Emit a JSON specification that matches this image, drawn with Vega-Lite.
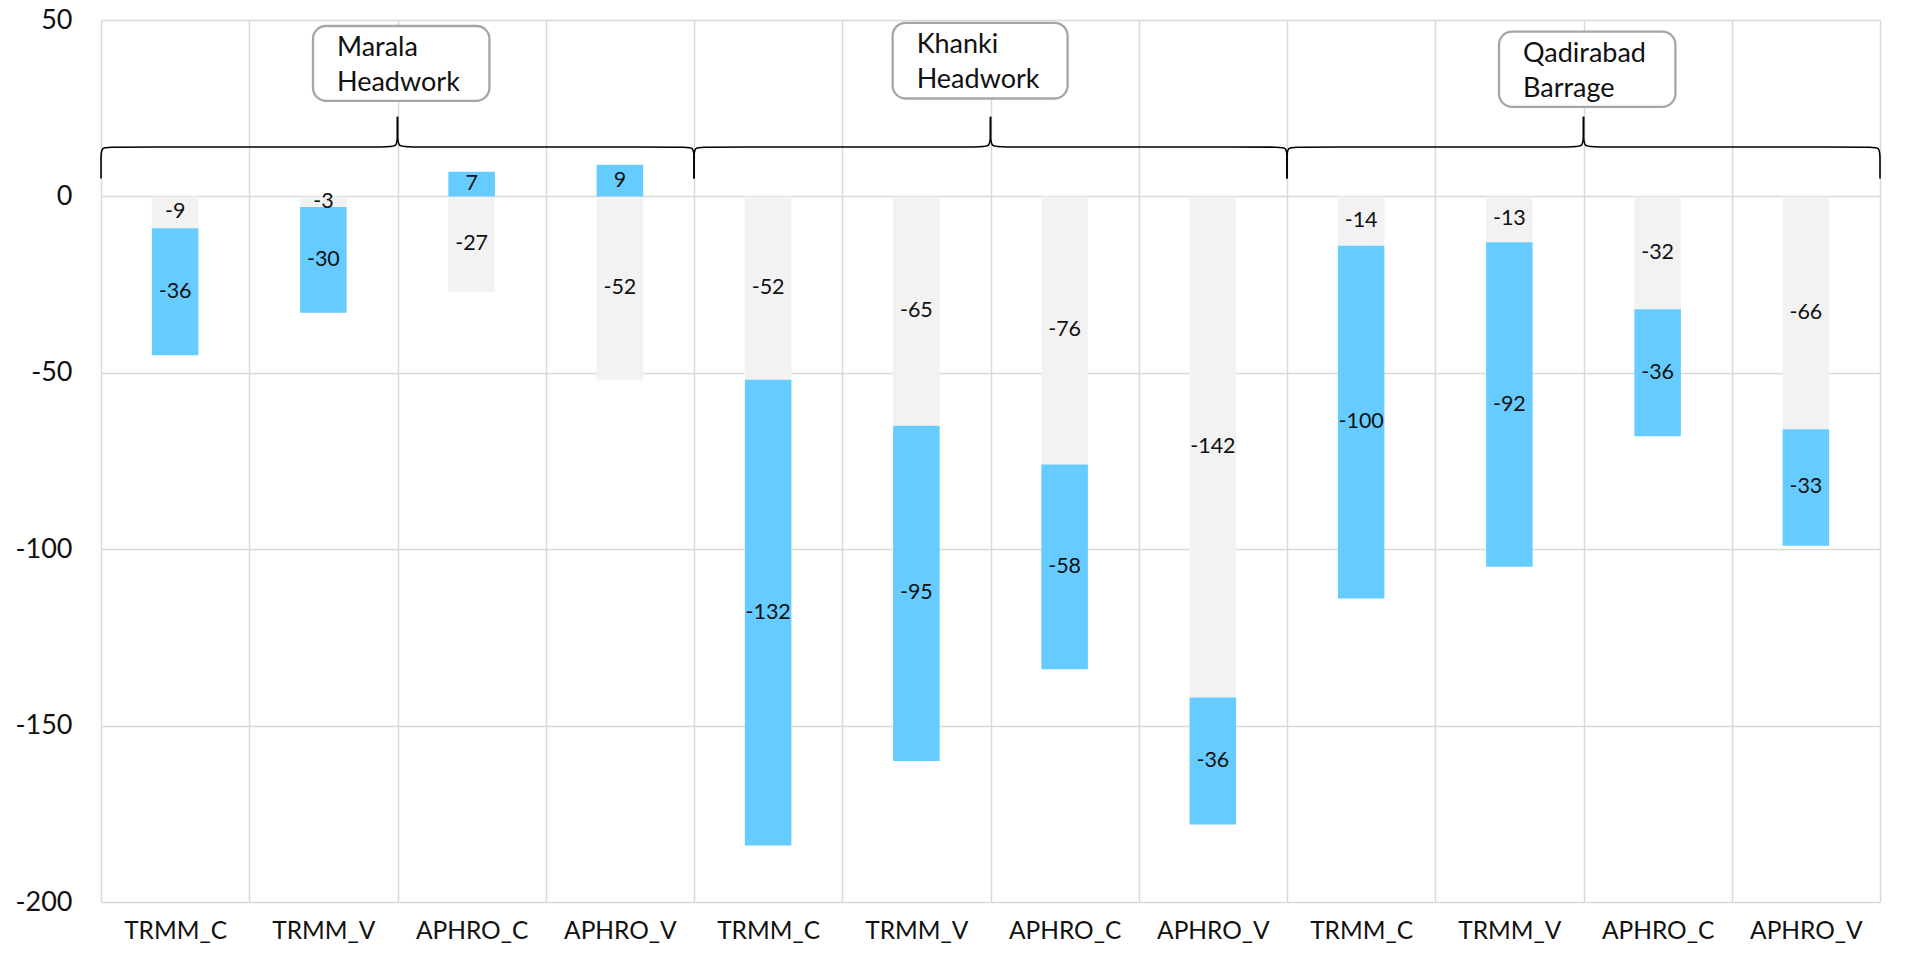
{
  "$schema": "https://vega.github.io/schema/vega-lite/v6.json",
  "width": 1779,
  "height": 882,
  "autosize": "none",
  "padding": {"left": 101, "top": 20, "right": 30, "bottom": 60},
  "background": "white",
  "config": {
    "view": {"stroke": null},
    "font": "Lato",
    "text": {"font": "Lato"}
  },
  "datasets": {
    "bars": [
      {"id": "Marala|TRMM_C", "segment": "first", "value": -9},
      {"id": "Marala|TRMM_C", "segment": "second", "value": -36},
      {"id": "Marala|TRMM_V", "segment": "first", "value": -3},
      {"id": "Marala|TRMM_V", "segment": "second", "value": -30},
      {"id": "Marala|APHRO_C", "segment": "first", "value": -27},
      {"id": "Marala|APHRO_C", "segment": "second", "value": 7},
      {"id": "Marala|APHRO_V", "segment": "first", "value": -52},
      {"id": "Marala|APHRO_V", "segment": "second", "value": 9},
      {"id": "Khanki|TRMM_C", "segment": "first", "value": -52},
      {"id": "Khanki|TRMM_C", "segment": "second", "value": -132},
      {"id": "Khanki|TRMM_V", "segment": "first", "value": -65},
      {"id": "Khanki|TRMM_V", "segment": "second", "value": -95},
      {"id": "Khanki|APHRO_C", "segment": "first", "value": -76},
      {"id": "Khanki|APHRO_C", "segment": "second", "value": -58},
      {"id": "Khanki|APHRO_V", "segment": "first", "value": -142},
      {"id": "Khanki|APHRO_V", "segment": "second", "value": -36},
      {"id": "Qadirabad|TRMM_C", "segment": "first", "value": -14},
      {"id": "Qadirabad|TRMM_C", "segment": "second", "value": -100},
      {"id": "Qadirabad|TRMM_V", "segment": "first", "value": -13},
      {"id": "Qadirabad|TRMM_V", "segment": "second", "value": -92},
      {"id": "Qadirabad|APHRO_C", "segment": "first", "value": -32},
      {"id": "Qadirabad|APHRO_C", "segment": "second", "value": -36},
      {"id": "Qadirabad|APHRO_V", "segment": "first", "value": -66},
      {"id": "Qadirabad|APHRO_V", "segment": "second", "value": -33}
    ],
    "callouts": [
      {"site": "Marala\nHeadwork", "x0": 1.43, "x1": 2.62, "y0": 27.1, "y1": 48.3},
      {"site": "Khanki\nHeadwork", "x0": 5.34, "x1": 6.52, "y0": 27.75, "y1": 49.2},
      {"site": "Qadirabad\nBarrage", "x0": 9.43, "x1": 10.62, "y0": 25.4, "y1": 46.7}
    ],
    "braces": [
      {"half": "M-left", "k": 0, "x": 0, "y": 5.1},
      {"half": "M-left", "k": 1, "x": 0, "y": 11},
      {"half": "M-left", "k": 2, "x": 0, "y": 14},
      {"half": "M-left", "k": 3, "x": 0.07, "y": 14},
      {"half": "M-left", "k": 4, "x": 1.93, "y": 14},
      {"half": "M-left", "k": 5, "x": 2, "y": 14},
      {"half": "M-left", "k": 6, "x": 2, "y": 18},
      {"half": "M-left", "k": 7, "x": 2, "y": 22.6},
      {"half": "M-right", "k": 0, "x": 4, "y": 5.1},
      {"half": "M-right", "k": 1, "x": 4, "y": 11},
      {"half": "M-right", "k": 2, "x": 4, "y": 14},
      {"half": "M-right", "k": 3, "x": 3.93, "y": 14},
      {"half": "M-right", "k": 4, "x": 2.07, "y": 14},
      {"half": "M-right", "k": 5, "x": 2, "y": 14},
      {"half": "M-right", "k": 6, "x": 2, "y": 18},
      {"half": "M-right", "k": 7, "x": 2, "y": 22.6},
      {"half": "K-left", "k": 0, "x": 4, "y": 5.1},
      {"half": "K-left", "k": 1, "x": 4, "y": 11},
      {"half": "K-left", "k": 2, "x": 4, "y": 14},
      {"half": "K-left", "k": 3, "x": 4.07, "y": 14},
      {"half": "K-left", "k": 4, "x": 5.93, "y": 14},
      {"half": "K-left", "k": 5, "x": 6, "y": 14},
      {"half": "K-left", "k": 6, "x": 6, "y": 18},
      {"half": "K-left", "k": 7, "x": 6, "y": 22.6},
      {"half": "K-right", "k": 0, "x": 8, "y": 5.1},
      {"half": "K-right", "k": 1, "x": 8, "y": 11},
      {"half": "K-right", "k": 2, "x": 8, "y": 14},
      {"half": "K-right", "k": 3, "x": 7.93, "y": 14},
      {"half": "K-right", "k": 4, "x": 6.07, "y": 14},
      {"half": "K-right", "k": 5, "x": 6, "y": 14},
      {"half": "K-right", "k": 6, "x": 6, "y": 18},
      {"half": "K-right", "k": 7, "x": 6, "y": 22.6},
      {"half": "Q-left", "k": 0, "x": 8, "y": 5.1},
      {"half": "Q-left", "k": 1, "x": 8, "y": 11},
      {"half": "Q-left", "k": 2, "x": 8, "y": 14},
      {"half": "Q-left", "k": 3, "x": 8.07, "y": 14},
      {"half": "Q-left", "k": 4, "x": 9.93, "y": 14},
      {"half": "Q-left", "k": 5, "x": 10, "y": 14},
      {"half": "Q-left", "k": 6, "x": 10, "y": 18},
      {"half": "Q-left", "k": 7, "x": 10, "y": 22.6},
      {"half": "Q-right", "k": 0, "x": 12, "y": 5.1},
      {"half": "Q-right", "k": 1, "x": 12, "y": 11},
      {"half": "Q-right", "k": 2, "x": 12, "y": 14},
      {"half": "Q-right", "k": 3, "x": 11.93, "y": 14},
      {"half": "Q-right", "k": 4, "x": 10.07, "y": 14},
      {"half": "Q-right", "k": 5, "x": 10, "y": 14},
      {"half": "Q-right", "k": 6, "x": 10, "y": 18},
      {"half": "Q-right", "k": 7, "x": 10, "y": 22.6}
    ]
  },
  "layer": [
    {
      "data": {"name": "bars"},
      "layer": [
        {
          "mark": {"type": "bar", "width": {"band": 0.314}},
          "encoding": {
            "x": {
              "field": "id",
              "type": "nominal",
              "sort": null,
              "title": null,
              "scale": {"paddingInner": 0, "paddingOuter": 0},
              "axis": {
                "title": null,
                "grid": true,
                "gridColor": "#D9D9D9",
                "gridWidth": 1.5,
                "tickBand": "extent",
                "ticks": false,
                "domain": false,
                "labelAngle": 0,
                "labelExpr": "split(datum.label, '|')[1]",
                "labelFont": "Lato",
                "labelFontSize": 24.5,
                "labelColor": "#111111",
                "labelPadding": 17
              }
            },
            "y": {
              "field": "value",
              "type": "quantitative",
              "stack": "zero",
              "title": null,
              "scale": {"domain": [-200, 50], "nice": false, "zero": false},
              "axis": {
                "title": null,
                "values": [-200, -150, -100, -50, 0, 50],
                "labelExpr": "'' + datum.value",
                "grid": true,
                "gridColor": "#D9D9D9",
                "gridWidth": 1.5,
                "ticks": false,
                "tickSize": 0,
                "domain": false,
                "labelFont": "Lato",
                "labelFontSize": 27,
                "labelColor": "#111111",
                "labelPadding": 29
              }
            },
            "color": {
              "field": "segment",
              "type": "nominal",
              "scale": {"domain": ["first", "second"], "range": ["#F2F2F2", "#66CCFF"]},
              "legend": null
            },
            "order": {"field": "segment", "sort": "ascending"}
          }
        },
        {
          "mark": {"type": "text", "font": "Lato", "fontSize": 21.5, "color": "#111111", "align": "center", "baseline": "middle"},
          "encoding": {
            "x": {"field": "id", "type": "nominal", "sort": null, "title": null},
            "y": {"field": "value", "type": "quantitative", "stack": "zero", "bandPosition": 0.5, "title": null},
            "detail": {"field": "segment"},
            "order": {"field": "segment", "sort": "ascending"},
            "text": {"field": "value", "type": "nominal"}
          }
        }
      ]
    },
    {
      "layer": [
        {
          "data": {"name": "callouts"},
          "mark": {"type": "rect", "fill": "white", "stroke": "#A6A6A6", "strokeWidth": 2.3, "cornerRadius": 13},
          "encoding": {
            "x": {"field": "x0", "type": "quantitative", "scale": {"domain": [0, 12], "nice": false, "zero": false}, "axis": null},
            "x2": {"field": "x1"},
            "y": {"field": "y0", "type": "quantitative", "title": null},
            "y2": {"field": "y1"}
          }
        },
        {
          "data": {"name": "callouts"},
          "mark": {"type": "text", "font": "Lato", "fontSize": 27, "color": "#111111", "align": "left", "baseline": "alphabetic", "lineBreak": "\n", "lineHeight": 35, "dx": 24, "dy": 30.5},
          "encoding": {
            "x": {"field": "x0", "type": "quantitative", "scale": {"domain": [0, 12], "nice": false, "zero": false}, "axis": null},
            "y": {"field": "y1", "type": "quantitative", "title": null},
            "text": {"field": "site", "type": "nominal"}
          }
        },
        {
          "data": {"name": "braces"},
          "mark": {"type": "line", "interpolate": "basis", "stroke": "#000000", "strokeWidth": 1.6},
          "encoding": {
            "x": {"field": "x", "type": "quantitative", "scale": {"domain": [0, 12], "nice": false, "zero": false}, "axis": null},
            "y": {"field": "y", "type": "quantitative", "title": null},
            "detail": {"field": "half"},
            "order": {"field": "k"}
          }
        }
      ]
    }
  ],
  "resolve": {"scale": {"x": "independent"}}
}
